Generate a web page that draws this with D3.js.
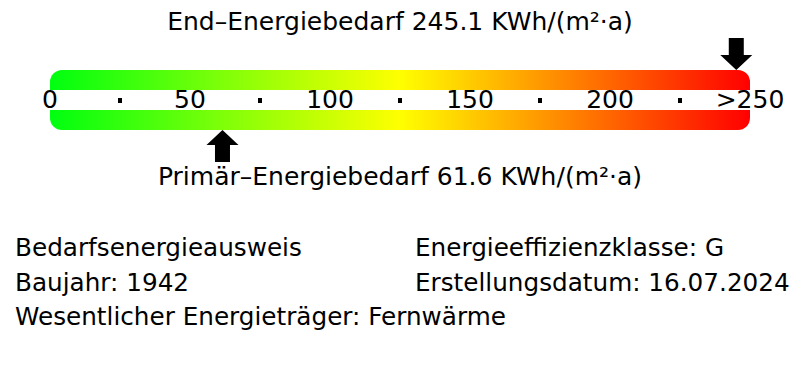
<!DOCTYPE html>
<html><head><meta charset="utf-8">
<script src="https://cdn.jsdelivr.net/npm/d3@7"></script>
<style>body{margin:0;background:#fff}svg{display:block}text{font-family:"DejaVu Sans";fill:#000}</style>
</head><body><svg id="c" width="800" height="380"></svg>
<script>
const tickValues = [0, 50, 100, 150, 200, 250];
const tickLabels = ["0", "50", "100", "150", "200", ">250"];
const minorTicks = [25, 75, 125, 175, 225];
const endEnergy = 245.1;
const primaryEnergy = 61.6;
const gradientColors = ["#00ff10", "#ffff00", "#ff0000"];
const infoLeft = ["Bedarfsenergieausweis", "Baujahr: 1942", "Wesentlicher Energieträger: Fernwärme"];
const infoRight = ["Energieeffizienzklasse: G", "Erstellungsdatum: 16.07.2024"];

const svg = d3.select("#c");
const x = d3.scaleLinear().domain([0, 250]).range([50, 750]);

const defs = svg.append("defs");
const grad = defs.append("linearGradient").attr("id", "g")
  .attr("x1", 0).attr("x2", 1).attr("y1", 0).attr("y2", 0);
grad.selectAll("stop").data(gradientColors).join("stop")
  .attr("offset", (d, i) => i / (gradientColors.length - 1))
  .attr("stop-color", d => d);

svg.append("rect").attr("x", x(0)).attr("y", 70).attr("width", x(250) - x(0)).attr("height", 60)
  .attr("rx", 12).attr("ry", 12).attr("fill", "url(#g)");
svg.append("rect").attr("x", x(0)).attr("y", 90).attr("width", x(250) - x(0)).attr("height", 20)
  .attr("fill", "#fff");

svg.selectAll("text.tick").data(tickValues).join("text").attr("class", "tick")
  .attr("x", d => x(d)).attr("y", 108).attr("text-anchor", "middle")
  .attr("font-size", 25).text((d, i) => tickLabels[i]);

svg.selectAll("rect.dot").data(minorTicks).join("rect").attr("class", "dot")
  .attr("x", d => x(d) - 2).attr("y", 98).attr("width", 4).attr("height", 5).attr("fill", "#000");

function arrowDown(v) {
  const cx = x(v);
  return `M${cx - 7.5},38 L${cx + 7.5},38 L${cx + 7.5},55 L${cx + 16},55 L${cx},70 L${cx - 16},55 L${cx - 7.5},55 Z`;
}
function arrowUp(v) {
  const cx = x(v);
  return `M${cx},130 L${cx + 16},145 L${cx + 7.5},145 L${cx + 7.5},162 L${cx - 7.5},162 L${cx - 7.5},145 L${cx - 16},145 Z`;
}
svg.append("path").attr("d", arrowDown(endEnergy)).attr("fill", "#000");
svg.append("path").attr("d", arrowUp(primaryEnergy)).attr("fill", "#000");

svg.append("text").attr("x", 400).attr("y", 30).attr("text-anchor", "middle").attr("font-size", 25)
  .text(`End–Energiebedarf ${endEnergy} KWh/(m²·a)`);
svg.append("text").attr("x", 400).attr("y", 185).attr("text-anchor", "middle").attr("font-size", 25)
  .text(`Primär–Energiebedarf ${primaryEnergy} KWh/(m²·a)`);

svg.selectAll("text.il").data(infoLeft).join("text").attr("class", "il")
  .attr("x", 15).attr("y", (d, i) => 256 + i * 34.5).attr("font-size", 24.7).text(d => d);
svg.selectAll("text.ir").data(infoRight).join("text").attr("class", "ir")
  .attr("x", 415).attr("y", (d, i) => 256 + i * 34.5).attr("font-size", 24.7).text(d => d);
</script></body></html>
